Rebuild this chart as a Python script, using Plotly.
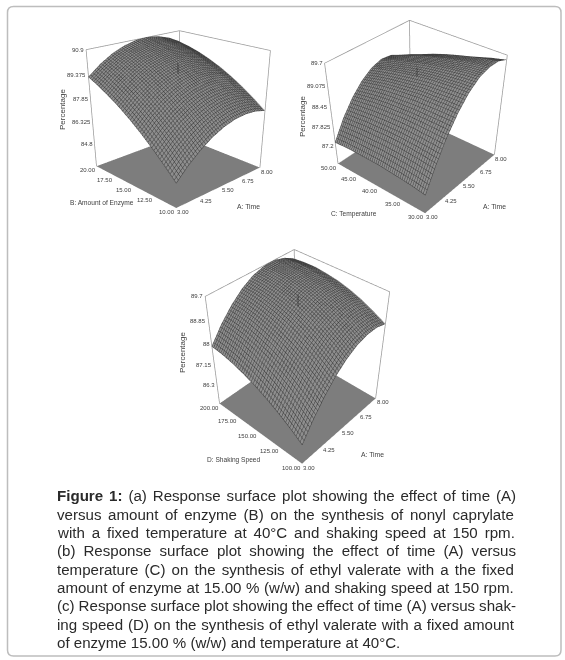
import math
import plotly.graph_objects as go

W, H = 565, 660

time_ticks = [3.00, 4.25, 5.50, 6.75, 8.00]
time_grid = [3.0, 3.625, 4.25, 4.875, 5.5, 6.125, 6.75, 7.375, 8.0]

enzyme_ticks = [10.0, 12.5, 15.0, 17.5, 20.0]
enzyme_grid = [10.0, 11.25, 12.5, 13.75, 15.0, 16.25, 17.5, 18.75, 20.0]
enzyme_z_ticks = ["84.8", "86.325", "87.85", "89.375", "90.9"]
enzyme_floor = 83.17
enzyme_center = [89.49, 90.1]
enzyme_z = [
    [84.80, 85.60, 86.25, 86.76, 87.13, 87.35, 87.43, 87.37, 87.16],
    [85.57, 86.34, 86.97, 87.46, 87.80, 88.01, 88.06, 87.98, 87.75],
    [86.28, 87.03, 87.64, 88.10, 88.43, 88.60, 88.64, 88.53, 88.28],
    [86.93, 87.67, 88.24, 88.69, 88.99, 89.15, 89.16, 89.03, 88.75],
    [87.52, 88.23, 88.79, 89.21, 89.49, 89.62, 89.60, 89.46, 89.16],
    [88.05, 88.73, 89.26, 89.67, 89.92, 90.04, 90.00, 89.83, 89.50],
    [88.50, 89.17, 89.68, 90.06, 90.28, 90.38, 90.32, 90.13, 89.79],
    [88.91, 89.55, 90.05, 90.40, 90.60, 90.66, 90.60, 90.38, 90.01],
    [89.25, 89.87, 90.34, 90.66, 90.85, 90.90, 90.80, 90.56, 90.17],
]

temp_ticks = [30.0, 35.0, 40.0, 45.0, 50.0]
temp_grid = [30.0, 32.5, 35.0, 37.5, 40.0, 42.5, 45.0, 47.5, 50.0]
temp_z_ticks = ["87.2", "87.825", "88.45", "89.075", "89.7"]
temp_floor = 86.575
temp_center = [89.23, 89.48]
temp_z = [
    [87.20, 87.92, 88.53, 89.01, 89.37, 89.60, 89.70, 89.70, 89.58],
    [87.26, 87.96, 88.54, 89.01, 89.35, 89.57, 89.66, 89.64, 89.49],
    [87.30, 87.99, 88.55, 88.99, 89.32, 89.52, 89.60, 89.55, 89.38],
    [87.33, 88.01, 88.55, 88.98, 89.29, 89.46, 89.52, 89.46, 89.27],
    [87.36, 88.01, 88.53, 88.94, 89.23, 89.40, 89.43, 89.36, 89.15],
    [87.36, 87.99, 88.51, 88.90, 89.16, 89.31, 89.34, 89.24, 89.02],
    [87.36, 87.98, 88.47, 88.85, 89.09, 89.21, 89.23, 89.10, 88.87],
    [87.35, 87.94, 88.42, 88.77, 89.01, 89.12, 89.10, 88.97, 88.71],
    [87.32, 87.91, 88.36, 88.69, 88.91, 89.01, 88.97, 88.81, 88.54],
]

speed_ticks = [100.0, 125.0, 150.0, 175.0, 200.0]
speed_grid = [100.0, 112.5, 125.0, 137.5, 150.0, 162.5, 175.0, 187.5, 200.0]
speed_z_ticks = ["86.3", "87.15", "88", "88.85", "89.7"]
speed_floor = 85.46
speed_center = [89.29, 89.7]
speed_z = [
    [86.30, 86.98, 87.55, 88.01, 88.35, 88.58, 88.69, 88.69, 88.57],
    [86.65, 87.31, 87.87, 88.31, 88.65, 88.86, 88.95, 88.94, 88.81],
    [86.95, 87.61, 88.15, 88.59, 88.90, 89.10, 89.19, 89.17, 89.02],
    [87.21, 87.86, 88.39, 88.81, 89.11, 89.30, 89.37, 89.33, 89.18],
    [87.43, 88.07, 88.59, 88.99, 89.29, 89.46, 89.53, 89.47, 89.30],
    [87.61, 88.23, 88.74, 89.13, 89.41, 89.57, 89.62, 89.55, 89.37],
    [87.75, 88.37, 88.86, 89.23, 89.50, 89.66, 89.69, 89.62, 89.42],
    [87.85, 88.45, 88.93, 89.29, 89.54, 89.69, 89.70, 89.62, 89.41],
    [87.90, 88.49, 88.95, 89.31, 89.55, 89.67, 89.69, 89.58, 89.37],
]

caption_lines = [
    ("(a) Response surface plot showing the effect of time (A)", "Figure 1: "),
    ("versus amount of enzyme (B) on the synthesis of nonyl caprylate", ""),
    ("with a fixed temperature at 40°C and shaking speed at 150 rpm.", ""),
    ("(b) Response surface plot showing the effect of time (A) versus", ""),
    ("temperature (C) on the synthesis of ethyl valerate with a the fixed", ""),
    ("amount of enzyme at 15.00 % (w/w) and shaking speed at 150 rpm.", ""),
    ("(c) Response surface plot showing the effect of time (A) versus shak-", ""),
    ("ing speed (D) on the synthesis of ethyl valerate with a fixed amount", ""),
    ("of enzyme 15.00 % (w/w) and temperature at 40°C.", ""),
]

FONT = "Liberation Sans"
CAP_SIZE = 15.1
CAP_LEFT, CAP_RIGHT = 55, 512
CAP_TOP, CAP_STEP = 496, 18.33

ARIAL = {" ": 278, "%": 889, "(": 333, ")": 333, "-": 333, ".": 278, "/": 278, ":": 278, "°": 400,
         "A": 667, "B": 667, "C": 722, "D": 722, "F": 611,
         "a": 556, "b": 556, "c": 500, "d": 556, "e": 556, "f": 278, "g": 556, "h": 556, "i": 222,
         "j": 222, "k": 500, "l": 222, "m": 833, "n": 556, "o": 556, "p": 556, "q": 556, "r": 333,
         "s": 500, "t": 278, "u": 556, "v": 500, "w": 722, "x": 500, "y": 500, "z": 500}
ARIAL_BOLD = {"F": 611, "i": 278, "g": 611, "u": 611, "r": 389, "e": 556, " ": 278, "1": 556, ":": 333}


def width(text, table):
    return sum(table.get(c, 556) for c in text) * CAP_SIZE / 1000


def px_domain(x0, x1, y0, y1):
    return dict(x=[max(0, x0 / W), min(1, x1 / W)], y=[max(0, 1 - y1 / H), min(1, 1 - y0 / H)])


SCENE_H = 430


def camera(p, q, elev_deg, dist, up_px):
    """View direction from azimuth weights p, q; pan the box up the screen by up_px pixels."""
    n = math.hypot(p, q)
    p, q = p / n, q / n
    e = math.radians(elev_deg)
    scale = (SCENE_H / 2) / math.tan(math.radians(22.5)) / dist
    up = (math.sin(e) * p, math.sin(e) * q, math.cos(e))
    c = tuple(-up_px / scale * u for u in up)
    d = (-math.cos(e) * p, -math.cos(e) * q, math.sin(e))
    eye = tuple(ci + dist * di for ci, di in zip(c, d))
    return dict(eye=dict(x=eye[0], y=eye[1], z=eye[2]), center=dict(x=c[0], y=c[1], z=c[2]),
                up=dict(x=0, y=0, z=1), projection=dict(type="perspective"))


fig = go.Figure()
PAD = 0.002
paper_ann = []


def paper_label(text, x, y, size, angle=0):
    paper_ann.append(dict(xref="paper", yref="paper", x=x / W, y=1 - y / H, text=text, showarrow=False,
                          xanchor="center", yanchor="middle", textangle=angle,
                          font=dict(family=FONT, size=size, color="#404040")))


def panel(name, xs, ys, zs, xt, yt, zt, z0, mark, ytitle, domain, cam, aspect_z, titles):
    scene = "scene" if name == 1 else f"scene{name}"
    x0, x1, y0, y1 = xs[0], xs[-1], ys[0], ys[-1]
    z1 = float(zt[-1])
    nlines = 46
    flat = [[0] * len(xs) for _ in ys]
    unlit = dict(ambient=1, diffuse=0, specular=0, fresnel=0)
    fig.add_trace(go.Surface(
        x=xs, y=ys, z=[[z0] * len(xs) for _ in ys], scene=scene, showscale=False,
        colorscale=[[0, "#7d7d7d"], [1, "#7d7d7d"]], cmin=0, cmax=1, surfacecolor=flat,
        lighting=unlit, hoverinfo="skip"))
    fig.add_trace(go.Surface(
        x=xs, y=ys, z=zs, scene=scene, showscale=False,
        colorscale=[[0, "#8e8e8e"], [1, "#8e8e8e"]], cmin=0, cmax=1, surfacecolor=flat,
        lighting=unlit, hoverinfo="skip",
        contours=dict(
            x=dict(show=True, start=x0, end=x1, size=(x1 - x0) / nlines, color="#404040", width=1),
            y=dict(show=True, start=y0, end=y1, size=(y1 - y0) / nlines, color="#404040", width=1),
        )))
    bx = [x0, x0, x1, x1, None, x1, x1, None, x0, x1, x1]
    by = [y1, y1, y1, y1, None, y0, y0, None, y1, y1, y0]
    bz = [z0, z1, z1, z0, None, z0, z1, None, z1, z1, z1]
    fig.add_trace(go.Scatter3d(x=bx, y=by, z=bz, mode="lines", scene=scene, hoverinfo="skip",
                               line=dict(color="#9a9a9a", width=1.5), showlegend=False))
    fig.add_trace(go.Scatter3d(x=[xs[4], xs[4]], y=[ys[4], ys[4]], z=mark, mode="lines", scene=scene,
                               hoverinfo="skip", line=dict(color="#333333", width=1.5), showlegend=False))
    tf = dict(family=FONT, size=6, color="#404040")
    ann = []
    for t in xt:
        ann.append(dict(x=t, y=y0, z=z0, text=f"{t:.2f}", showarrow=False, xanchor="left", yanchor="middle",
                        xshift=-1, yshift=-4, font=tf))
    for t in yt:
        ann.append(dict(x=x0, y=t, z=z0, text=f"{t:.2f}", showarrow=False, xanchor="right", yanchor="middle",
                        xshift=1, yshift=-4, font=tf))
    for t in zt:
        ann.append(dict(x=x0, y=y1, z=float(t), text=t, showarrow=False, xanchor="right", yanchor="middle",
                        xshift=0, yshift=0, font=tf))
    paper_label("A: Time", *titles[0], 6.8)
    paper_label(ytitle, *titles[1], 6.6)
    paper_label("Percentage", *titles[2], 8, -90)
    noax = dict(visible=False, showbackground=False, showgrid=False, zeroline=False, showticklabels=False)
    dx, dy, dz = (x1 - x0) * PAD, (y1 - y0) * PAD, (z1 - z0) * PAD
    fig.update_layout(**{scene: dict(
        domain=domain,
        xaxis=dict(range=[x0 - dx, x1 + dx], **noax), yaxis=dict(range=[y0 - dy, y1 + dy], **noax),
        zaxis=dict(range=[z0 - dz, z1 + dz], **noax),
        aspectmode="manual", aspectratio=dict(x=1, y=1, z=aspect_z),
        camera=cam, annotations=ann, bgcolor="rgba(0,0,0,0)")})


panel(1, time_grid, enzyme_grid, enzyme_z, time_ticks, enzyme_ticks, enzyme_z_ticks, enzyme_floor, enzyme_center,
      "B: Amount of Enzyme", px_domain(0, 356, 0, SCENE_H), camera(0.694, 0.72, 31, 4.22, 103), 0.99,
      [(248, 206), (102, 203), (63, 110)])
panel(2, time_grid, temp_grid, temp_z, time_ticks, temp_ticks, temp_z_ticks, temp_floor, temp_center,
      "C: Temperature", px_domain(269, 565, 0, SCENE_H), camera(0.77, 0.64, 44, 4.32, 102), 0.97,
      [(494, 206), (354, 214), (303, 117)])
panel(3, time_grid, speed_grid, speed_z, time_ticks, speed_ticks, speed_z_ticks, speed_floor, speed_center,
      "D: Shaking Speed", px_domain(31, 565, 132, 132 + SCENE_H), camera(0.739, 0.674, 39, 4.32, -5), 1.15,
      [(372, 454), (233, 460), (183, 353)])

for i, (line, bold) in enumerate(caption_lines):
    total = width(bold, ARIAL_BOLD) + width(line, ARIAL)
    spaces = (bold + line).count(" ")
    last = i == len(caption_lines) - 1
    gap = 0 if last else (CAP_RIGHT - CAP_LEFT - total) / spaces
    body = (f"<b>{bold.strip()}</b> " if bold else "") + line
    paper_ann.append(dict(
        xref="paper", yref="paper", x=CAP_LEFT / W, y=1 - (CAP_TOP + i * CAP_STEP) / H,
        text=f'<span style="word-spacing:{gap:.2f}px">{body}</span>', showarrow=False,
        xanchor="left", yanchor="middle", align="left",
        font=dict(family=FONT, size=CAP_SIZE, color="#2a2a2a")))

L, T, R, B, RAD = 7.5 / W, 1 - 6.5 / H, 561 / W, 1 - 656 / H, 6
rx, ry = RAD / W, RAD / H
frame = (f"M {L + rx},{T} L {R - rx},{T} Q {R},{T} {R},{T - ry} L {R},{B + ry} Q {R},{B} {R - rx},{B} "
         f"L {L + rx},{B} Q {L},{B} {L},{B + ry} L {L},{T - ry} Q {L},{T} {L + rx},{T} Z")

fig.update_layout(
    width=W, height=H, margin=dict(l=0, r=0, t=0, b=0), showlegend=False,
    paper_bgcolor="white", annotations=paper_ann,
    shapes=[dict(type="path", xref="paper", yref="paper", path=frame, line=dict(color="#bdbdbd", width=1.5))],
)
fig.write_html("out.html", config=dict(displayModeBar=False),
               post_script="document.body.style.margin='0';document.body.style.overflow='hidden';")
